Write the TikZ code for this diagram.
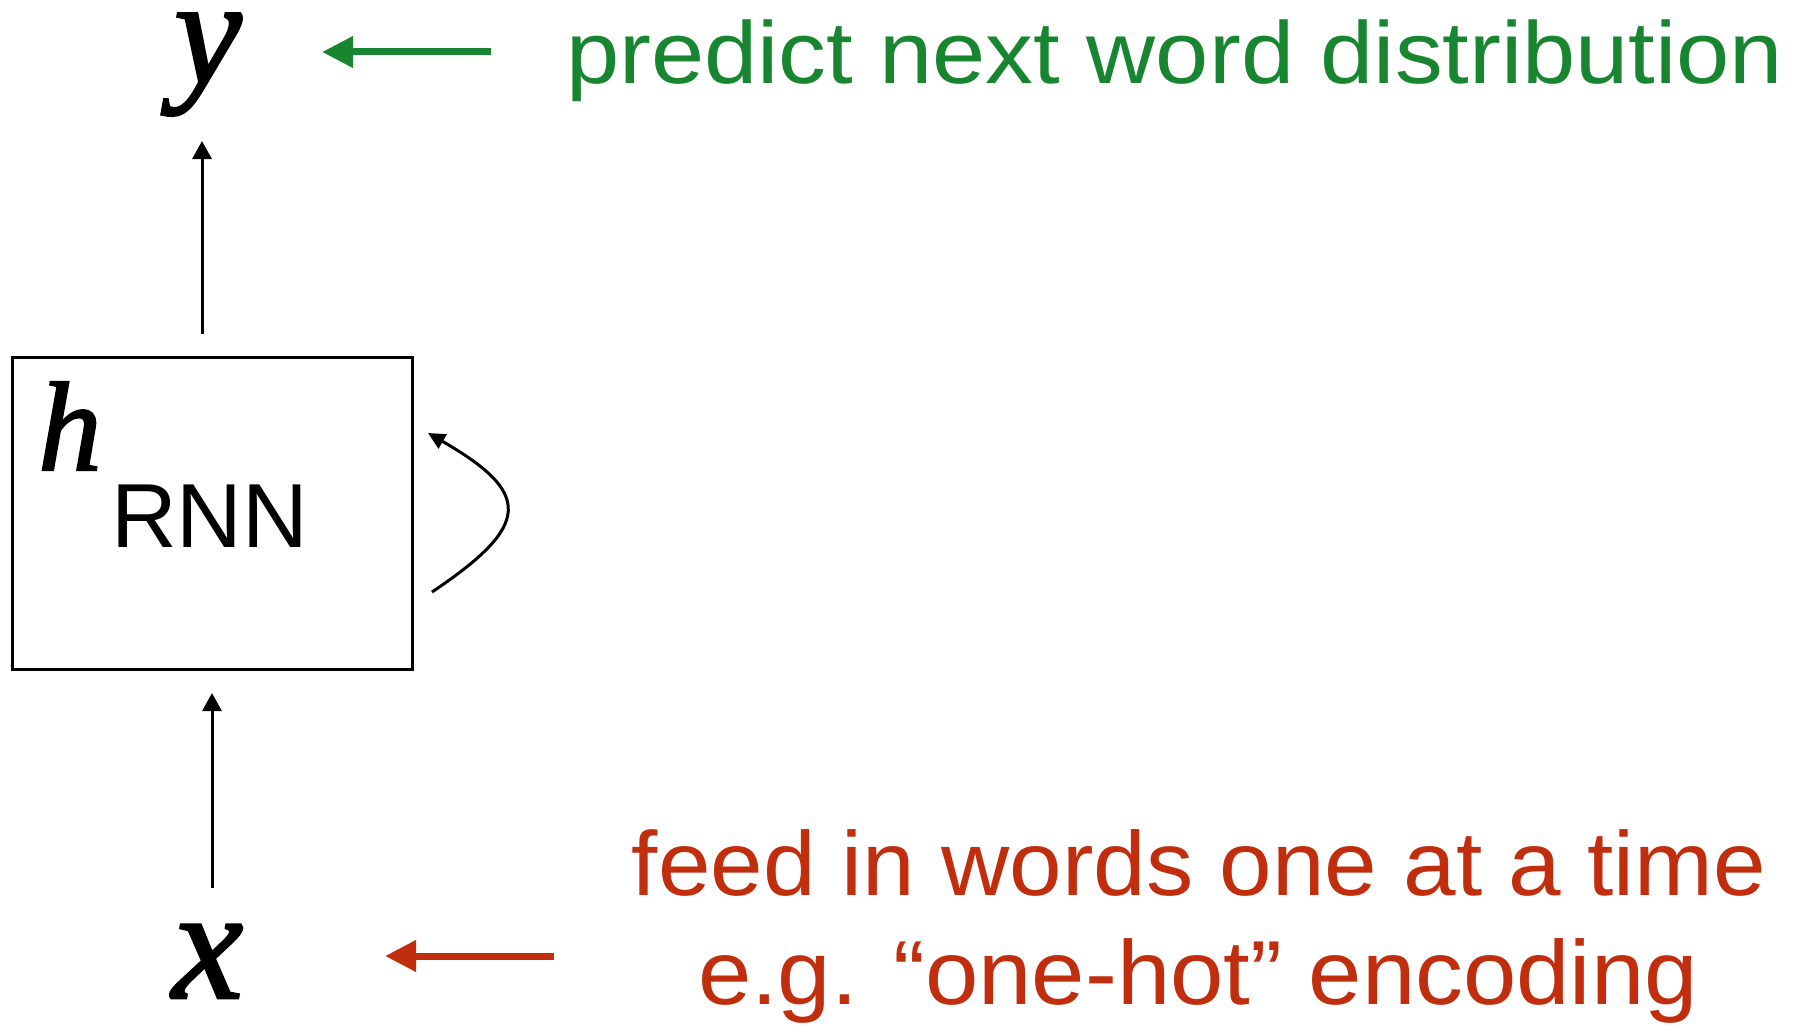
\documentclass[tikz,border=0pt]{standalone}
\usepackage{graphicx}
\usepackage{fontspec}
\setmainfont{Liberation Sans}
\newfontfamily\tms{Liberation Serif}[FakeBold=1.6]
\usetikzlibrary{arrows.meta}
\definecolor{pgreen}{RGB}{24,134,48}
\definecolor{pred}{RGB}{193,46,14}
\begin{document}
\begin{tikzpicture}[x=1pt,y=-1pt,
  thinarrow/.style={line width=3pt, -{Triangle[width=19pt,length=18pt]}},
  looparrow/.style={line width=3pt, -{Triangle[width=16pt,length=17pt]}},
  fatarrow/.style={line width=7pt, -{Triangle[width=30pt,length=31pt]}},
  mathlet/.style={inner sep=0pt, anchor=base west},
  txt/.style={inner sep=0pt, anchor=base}]
\useasboundingbox (0,0) rectangle (1798,1025);
\fill[white] (0,0) rectangle (1798,1025);

% box
\node[draw, line width=3pt, minimum width=400pt, minimum height=312pt, inner sep=0pt] (box) at (212.5,513.5) {};

% letters
\node[mathlet, font={\tms\itshape\fontsize{152}{152}\selectfont}] (ynode) at (174,83) {y};
\node[mathlet, font={\tms\itshape\fontsize{127}{127}\selectfont}] (hnode) at (38,470) {h};
\node[mathlet, font={\tms\itshape\fontsize{160}{160}\selectfont}] (xnode) at (172,998) {x};
\node[txt, anchor=base west, font={\fontsize{91}{91}\selectfont}] (rnn) at (111,547) {RNN};

% labels
\node[txt, anchor=base west, text=pgreen, font={\fontsize{88}{88}\selectfont}] (predict) at (566,83)
  {\resizebox{1217pt}{\height}{predict next word distribution}};
\node[txt, text=pred, font={\fontsize{91}{91}\selectfont}] (feed1) at (1199,895)
  {\resizebox{1134pt}{\height}{feed in words one at a time}};
\node[txt, text=pred, font={\fontsize{91}{91}\selectfont}] (feed2) at (1198,1004)
  {\resizebox{1000pt}{\height}{e.g. “one-hot” encoding}};

% connector end points
\coordinate (yarrow) at (202,141);
\coordinate (xarrow) at (212,888);
\coordinate (gtail) at (491,52);
\coordinate (gtip) at (322,52);
\coordinate (rtail) at (554,956);
\coordinate (rtip) at (385,956);
\coordinate (loopstart) at (432,592);
\coordinate (loopend) at (428,433);

% connectors
\draw[thinarrow, shorten <=22pt] (box.north -| yarrow) -- (yarrow);
\draw[thinarrow] (xarrow) -- ([yshift=-22pt]box.south -| xarrow);
\draw[looparrow] (loopstart) .. controls (532,525) and (532,493) .. (loopend);
\draw[fatarrow, pgreen] (gtail) -- (gtip);
\draw[fatarrow, pred] (rtail) -- (rtip);
\end{tikzpicture}
\end{document}
